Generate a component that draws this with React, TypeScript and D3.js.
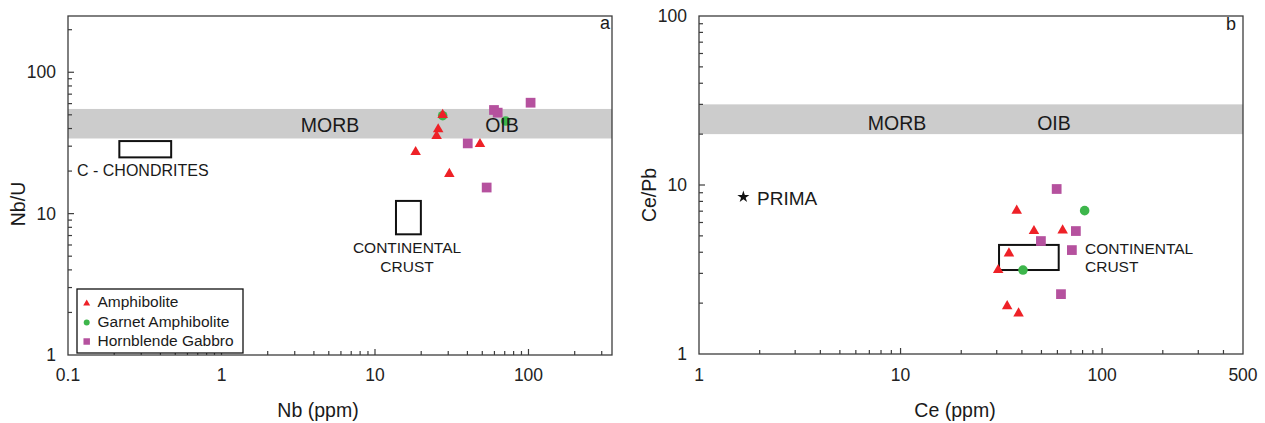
import React from "react";
import * as d3 from "d3";

// panel a : Nb vs Nb/U
const nbAmphibolite = [27.6, 25.8, 25.2, 18.4, 48.3, 30.5];
const nbuAmphibolite = [49.9, 39.5, 35.4, 27.3, 31.1, 19.1];
const nbGarnet = [27.6, 71.0];
const nbuGarnet = [49.3, 45.2];
const nbGabbro = [59.6, 63.0, 103.2, 40.2, 53.4];
const nbuGabbro = [54.1, 51.8, 60.9, 31.4, 15.3];

// panel b : Ce vs Ce/Pb
const ceAmphibolite = [37.7, 45.9, 63.7, 34.5, 30.5, 33.8, 38.5];
const cepbAmphibolite = [7.05, 5.34, 5.39, 3.94, 3.14, 1.92, 1.74];
const ceGarnet = [81.9, 40.5];
const cepbGarnet = [7.05, 3.14];
const ceGabbro = [59.5, 74.1, 49.7, 70.8, 62.5];
const cepbGabbro = [9.47, 5.34, 4.66, 4.12, 2.26];

// reference fields
const nbuMantleBand = [34, 55];
const cepbMantleBand = [20, 30];
const chondriteBox = { x: [0.216, 0.47], y: [25, 32.6] };
const crustBoxA = { x: [13.7, 19.9], y: [7.14, 12.3] };
const crustBoxB = { x: [30.8, 60.9], y: [3.14, 4.42] };
const prima = { ce: 1.66, cepb: 8.5 };

const xTicksA = [0.1, 1, 10, 100];
const yTicksA = [1, 10, 100];
const xTicksB = [1, 10, 100, 500];
const yTicksB = [1, 10, 100];

const FONT = "'Liberation Sans', Arial, Helvetica, sans-serif";
const RED = "#ee2127";
const GREEN = "#3db64b";
const PURPLE = "#b5519e";
const FRAME = "#3c3c3c";
const INK = "#1a1a1a";

const tri = d3.symbol().type(d3.symbolTriangle);
const circ = d3.symbol().type(d3.symbolCircle);
const sq = d3.symbol().type(d3.symbolSquare);

function fmt(v: number) {
  return v < 1 ? String(v) : d3.format("d")(v);
}

function Axes({ x, y, xLabels, yLabels, labelX }: any) {
  const [x0, x1] = x.range();
  const [y0, y1] = y.range();
  const isMajor = (v: number) => Math.abs(Math.log10(v) - Math.round(Math.log10(v))) < 1e-9;
  const xt = x.ticks().filter((v: number) => x(v) > x0 + 0.5 && x(v) < x1 - 0.5);
  const yt = y.ticks().filter((v: number) => y(v) < y0 - 0.5 && y(v) > y1 + 0.5);
  return (
    <g>
      {xt.map((v: number, i: number) => (
        <line key={"x" + i} x1={x(v)} x2={x(v)} y1={y0} y2={y0 - (isMajor(v) ? 6 : 4)} stroke={FRAME} strokeWidth={1.2} />
      ))}
      {yt.map((v: number, i: number) => (
        <line key={"y" + i} x1={x0} x2={x0 + (isMajor(v) ? 6 : 4)} y1={y(v)} y2={y(v)} stroke={FRAME} strokeWidth={1.2} />
      ))}
      <rect x={x0} y={y1} width={x1 - x0} height={y0 - y1} fill="none" stroke={FRAME} strokeWidth={1.3} />
      {xLabels.map((v: number) => (
        <text key={"xl" + v} x={x(v)} y={380.5} textAnchor="middle" fontSize={17.5} fill="#222">{fmt(v)}</text>
      ))}
      {yLabels.map((v: number) => (
        <text key={"yl" + v} x={labelX} y={y(v)} dy="0.35em" textAnchor="end" fontSize={17.5} fill="#222">{fmt(v)}</text>
      ))}
    </g>
  );
}

function Points({ x, y, xs, ys, gen, size, color }: any) {
  return (
    <g>
      {xs.map((v: number, i: number) => (
        <path key={i} d={gen.size(size)()} transform={`translate(${x(v)},${y(ys[i])})`} fill={color} />
      ))}
    </g>
  );
}

export default function App() {
  const xa = d3.scaleLog().domain([0.1, 350]).range([68, 612]);
  const ya = d3.scaleLog().domain([1, 250]).range([355, 16]);
  const xb = d3.scaleLog().domain([1, 500]).range([699, 1243]);
  const yb = d3.scaleLog().domain([1, 100]).range([354, 16]);

  return (
    <svg width={1265} height={423} style={{ position: "absolute", left: 0, top: 0, background: "#fff" }} fontFamily={FONT}>
      {/* panel a */}
      <rect x={68} y={ya(nbuMantleBand[1])} width={544} height={ya(nbuMantleBand[0]) - ya(nbuMantleBand[1])} fill="#cccccc" />
      <text x={330} y={131.5} textAnchor="middle" fontSize={19.5} fill={INK}>MORB</text>
      <rect x={xa(chondriteBox.x[0])} y={ya(chondriteBox.y[1])} width={xa(chondriteBox.x[1]) - xa(chondriteBox.x[0])}
        height={ya(chondriteBox.y[0]) - ya(chondriteBox.y[1])} fill="none" stroke="#111" strokeWidth={2} />
      <text x={77} y={176} fontSize={16} fill={INK}>C - CHONDRITES</text>
      <rect x={xa(crustBoxA.x[0])} y={ya(crustBoxA.y[1])} width={xa(crustBoxA.x[1]) - xa(crustBoxA.x[0])}
        height={ya(crustBoxA.y[0]) - ya(crustBoxA.y[1])} fill="none" stroke="#111" strokeWidth={2} />
      <text x={407} y={253} textAnchor="middle" fontSize={15.5} fill={INK}>CONTINENTAL</text>
      <text x={407} y={271.5} textAnchor="middle" fontSize={15.5} fill={INK}>CRUST</text>
      <Points x={xa} y={ya} xs={nbGarnet} ys={nbuGarnet} gen={circ} size={72} color={GREEN} />
      <Points x={xa} y={ya} xs={nbAmphibolite} ys={nbuAmphibolite} gen={tri} size={48} color={RED} />
      <Points x={xa} y={ya} xs={nbGabbro} ys={nbuGabbro} gen={sq} size={95} color={PURPLE} />
      <text x={502} y={131.5} textAnchor="middle" fontSize={19.5} fill={INK}>OIB</text>
      <Axes x={xa} y={ya} xLabels={xTicksA} yLabels={yTicksA} labelX={56} />
      <text x={610} y={29} textAnchor="end" fontSize={18} fill={INK}>a</text>
      <text x={318} y={417} textAnchor="middle" fontSize={19.5} fill={INK}>Nb (ppm)</text>
      <text transform="translate(25,204) rotate(-90)" textAnchor="middle" fontSize={19.5} fill={INK}>Nb/U</text>

      {/* legend */}
      <rect x={77} y={289} width={166} height={64} fill="#fff" stroke="#111" strokeWidth={1.3} />
      <path d={tri.size(21)()} transform="translate(86.7,303.5)" fill={RED} />
      <path d={circ.size(28)()} transform="translate(86.7,322.5)" fill={GREEN} />
      <path d={sq.size(42)()} transform="translate(86.7,341.5)" fill={PURPLE} />
      <text x={97.5} y={307} fontSize={15.5} fill={INK}>Amphibolite</text>
      <text x={97.5} y={326.5} fontSize={15.5} fill={INK}>Garnet Amphibolite</text>
      <text x={97.5} y={345.5} fontSize={15.5} fill={INK}>Hornblende Gabbro</text>

      {/* panel b */}
      <rect x={699} y={yb(cepbMantleBand[1])} width={544} height={yb(cepbMantleBand[0]) - yb(cepbMantleBand[1])} fill="#cccccc" />
      <text x={897} y={129.5} textAnchor="middle" fontSize={19.5} fill={INK}>MORB</text>
      <text x={1054} y={129.5} textAnchor="middle" fontSize={19.5} fill={INK}>OIB</text>
      <path d={d3.symbol().type(d3.symbolStar).size(45)()} transform={`translate(${xb(prima.ce)},${yb(prima.cepb)})`} fill="#111" />
      <text x={757} y={205} fontSize={19} fill={INK}>PRIMA</text>
      <rect x={xb(crustBoxB.x[0])} y={yb(crustBoxB.y[1])} width={xb(crustBoxB.x[1]) - xb(crustBoxB.x[0])}
        height={yb(crustBoxB.y[0]) - yb(crustBoxB.y[1])} fill="none" stroke="#111" strokeWidth={2} />
      <text x={1085} y={253.5} fontSize={15.5} fill={INK}>CONTINENTAL</text>
      <text x={1085} y={272} fontSize={15.5} fill={INK}>CRUST</text>
      <Points x={xb} y={yb} xs={ceAmphibolite} ys={cepbAmphibolite} gen={tri} size={48} color={RED} />
      <Points x={xb} y={yb} xs={ceGarnet} ys={cepbGarnet} gen={circ} size={72} color={GREEN} />
      <Points x={xb} y={yb} xs={ceGabbro} ys={cepbGabbro} gen={sq} size={95} color={PURPLE} />
      <Axes x={xb} y={yb} xLabels={xTicksB} yLabels={yTicksB} labelX={687} />
      <text x={1236} y={30} textAnchor="end" fontSize={18} fill={INK}>b</text>
      <text x={955} y={417} textAnchor="middle" fontSize={19.5} fill={INK}>Ce (ppm)</text>
      <text transform="translate(656,195) rotate(-90)" textAnchor="middle" fontSize={19.5} fill={INK}>Ce/Pb</text>
    </svg>
  );
}
